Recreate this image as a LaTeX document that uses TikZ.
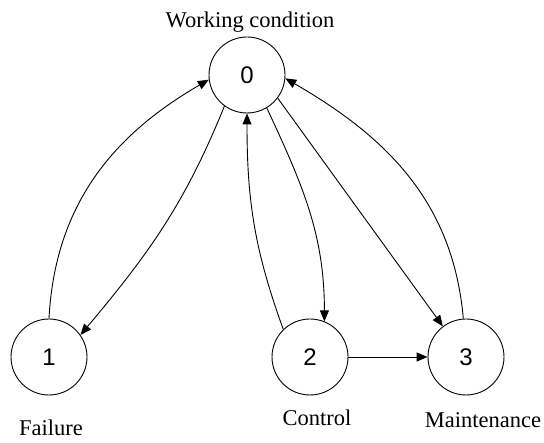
\documentclass[tikz,border=0pt]{standalone}
\usepackage{fontspec}
\setmainfont{Liberation Serif}
\newfontfamily\digitfont{Liberation Sans}
\usetikzlibrary{arrows.meta}
\def\arr{\draw[-{Triangle[length=11pt,width=9pt]}]}

\begin{document}
\begin{tikzpicture}[x=1pt,y=-1pt,line width=0.9pt,
        st/.style={draw,circle,minimum size=76pt,inner sep=0pt,font=\digitfont\fontsize{24}{26}\selectfont},
        lab/.style={inner sep=0pt,font=\fontsize{22.5}{24}\selectfont}]
                \useasboundingbox (0,0) rectangle (544,443);
                \node[st] (s0) at (247, 75) {0};
                \node[st] (s1) at ( 49,357) {1};
                \node[st] (s2) at (310,357) {2};
                \node[st] (s3) at (466,357) {3};
                \node[lab] (l0) at (250, 22) {Working condition};
                \node[lab] (l1) at ( 51,428) {Failure};
                \node[lab] (l2) at (317,418) {Control};
                \node[lab] (l3) at (483,420) {Maintenance};
                \arr (s1.90)   to[out=87,in=210]  (s0.187);
                \arr (s0.-126) to[out=-112,in=50] (s1.35);
                \arr (s2.134)  to[out=110,in=-90] (s0.-90);
                \arr (s0.-59)  to[out=-65,in=90]  (s2.68);
                \arr (s0.-37)  --                 (s3.127);
                \arr (s3.94)   to[out=95,in=-30]  (s0.-5);
                \arr (s2) -- (s3);
            \end{tikzpicture}
\end{document}
